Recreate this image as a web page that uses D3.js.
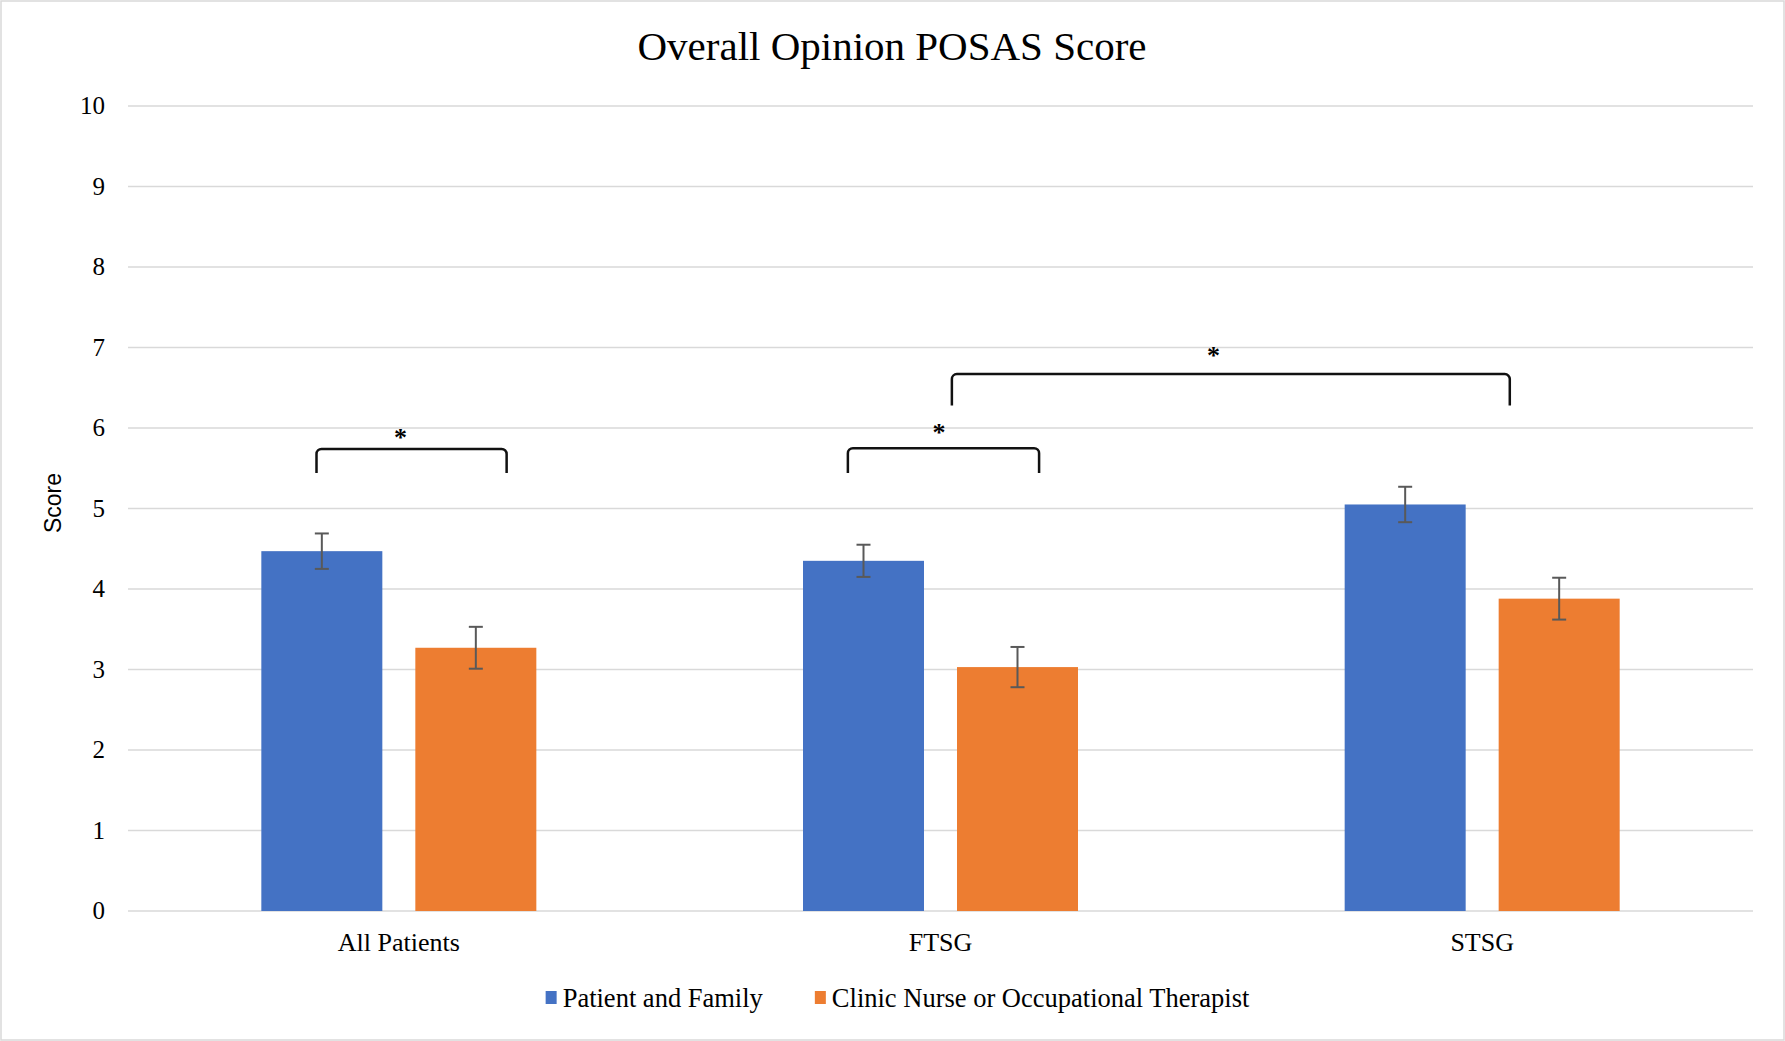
<!DOCTYPE html>
<html>
<head>
<meta charset="utf-8">
<script src="https://cdn.jsdelivr.net/npm/d3@7"></script>
<style>
  body { margin: 0; background: #fff; }
  svg text { font-family: "Liberation Serif", "Times New Roman", serif; fill: #000; }
</style>
</head>
<body>
<div id="chart"></div>
<script>
var w = 1785;
var h = 1041;

var categories = ["All Patients", "FTSG", "STSG"];
var series = ["Patient and Family", "Clinic Nurse or Occupational Therapist"];
var colors = ["#4472C4", "#ED7D31"];
var patientValues = [4.47, 4.35, 5.05];
var patientErrors = [0.22, 0.20, 0.22];
var clinicValues = [3.27, 3.03, 3.88];
var clinicErrors = [0.26, 0.25, 0.26];
var yTicks = [0, 1, 2, 3, 4, 5, 6, 7, 8, 9, 10];

// significance brackets: position along category axis (index + fraction), score level
var brackets = [
   {x1: 0.348, x2: 0.699, top: 5.74, leg: 5.44, star: 0.503, starY: 5.93},
   {x1: 1.329, x2: 1.682, top: 5.75, leg: 5.44, star: 1.497, starY: 5.99},
   {x1: 1.521, x2: 2.551, top: 6.67, leg: 6.28, star: 2.004, starY: 6.94}
];

var plotLeft = 128;
var plotRight = 1753;
var plotTop = 106;
var plotBottom = 911;

var rows = categories.map(function(c, i) {
   return {category: c, bars: [
      {series: series[0], value: patientValues[i], err: patientErrors[i], color: colors[0]},
      {series: series[1], value: clinicValues[i], err: clinicErrors[i], color: colors[1]}
   ]};
});

var svg = d3.select("#chart")
            .append("svg")
            .attr("width", w)
            .attr("height", h);

svg.append("rect")
   .attr("x", 1).attr("y", 1)
   .attr("width", w - 2).attr("height", h - 2)
   .attr("fill", "#fff")
   .attr("stroke", "#d9d9d9")
   .attr("stroke-width", 1.5);

var y = d3.scaleLinear().domain([0, 10]).range([plotBottom, plotTop]);
var x0 = d3.scaleBand().domain(categories).range([plotLeft, plotRight]).padding(0);
var x1 = d3.scaleBand().domain(series).range([-137.5, 137.5])
           .paddingInner(33 / 154).paddingOuter(0);
var xPos = d3.scaleLinear().domain([0, categories.length]).range([plotLeft, plotRight]);

// gridlines
svg.append("g")
   .selectAll("line")
   .data(yTicks)
   .join("line")
   .attr("x1", plotLeft).attr("x2", plotRight)
   .attr("y1", function(d) { return y(d); })
   .attr("y2", function(d) { return y(d); })
   .attr("stroke", "#d9d9d9")
   .attr("stroke-width", 1.5);

// y axis labels
var yAxis = svg.append("g")
   .attr("transform", "translate(105,0)")
   .call(d3.axisLeft(y).tickValues(yTicks).tickSize(0).tickPadding(0));
yAxis.select(".domain").remove();
yAxis.selectAll("text")
   .attr("font-family", "Liberation Serif")
   .attr("font-size", 25)
   .attr("fill", "#000")
   .attr("dy", "0.3em");

svg.append("text")
   .attr("transform", "translate(61,503) rotate(-90)")
   .attr("text-anchor", "middle")
   .style("font-family", "'Liberation Sans', Arial, sans-serif")
   .attr("font-size", 23)
   .text("Score");

// bars
var groups = svg.append("g")
   .selectAll("g")
   .data(rows)
   .join("g")
   .attr("transform", function(d) {
      return "translate(" + (x0(d.category) + x0.bandwidth() / 2) + ",0)";
   });

groups.selectAll("rect")
   .data(function(d) { return d.bars; })
   .join("rect")
   .attr("x", function(d) { return x1(d.series); })
   .attr("width", x1.bandwidth())
   .attr("y", function(d) { return y(d.value); })
   .attr("height", function(d) { return y(0) - y(d.value); })
   .attr("fill", function(d) { return d.color; });

// error bars
var errs = groups.selectAll("g.err")
   .data(function(d) { return d.bars; })
   .join("g")
   .attr("class", "err")
   .attr("stroke", "#595959")
   .attr("stroke-width", 2);

errs.append("line")
   .attr("x1", function(d) { return x1(d.series) + x1.bandwidth() / 2; })
   .attr("x2", function(d) { return x1(d.series) + x1.bandwidth() / 2; })
   .attr("y1", function(d) { return y(d.value + d.err); })
   .attr("y2", function(d) { return y(d.value - d.err); });

[1, -1].forEach(function(s) {
   errs.append("line")
      .attr("x1", function(d) { return x1(d.series) + x1.bandwidth() / 2 - 7; })
      .attr("x2", function(d) { return x1(d.series) + x1.bandwidth() / 2 + 7; })
      .attr("y1", function(d) { return y(d.value + s * d.err); })
      .attr("y2", function(d) { return y(d.value + s * d.err); });
});

// x labels
svg.append("g")
   .selectAll("text")
   .data(categories)
   .join("text")
   .attr("x", function(d) { return x0(d) + x0.bandwidth() / 2; })
   .attr("y", 951)
   .attr("text-anchor", "middle")
   .attr("font-size", 26)
   .text(function(d) { return d; });

// brackets
var bracketPath = function(b) {
   var p = d3.path();
   var l = xPos(b.x1), r = xPos(b.x2), t = y(b.top), g = y(b.leg);
   p.moveTo(l, g);
   p.arcTo(l, t, l + 6, t, 5);
   p.arcTo(r, t, r, g, 5);
   p.lineTo(r, g);
   return p.toString();
};

svg.append("g")
   .selectAll("path")
   .data(brackets)
   .join("path")
   .attr("d", bracketPath)
   .attr("fill", "none")
   .attr("stroke", "#111")
   .attr("stroke-width", 2.5);

svg.append("g")
   .selectAll("text")
   .data(brackets)
   .join("text")
   .attr("x", function(d) { return xPos(d.star); })
   .attr("y", function(d) { return y(d.starY) + 12; })
   .attr("text-anchor", "middle")
   .attr("font-size", 26)
   .attr("font-weight", "bold")
   .text("*");

// title
svg.append("text")
   .attr("x", 892)
   .attr("y", 60)
   .attr("text-anchor", "middle")
   .attr("font-size", 41)
   .text("Overall Opinion POSAS Score");

// legend
var legend = svg.append("g");
var items = legend.selectAll("g")
   .data(series)
   .join("g");
items.append("rect")
   .attr("width", 11).attr("height", 13)
   .attr("y", 991)
   .attr("fill", function(d, i) { return colors[i]; });
items.append("text")
   .attr("x", 17)
   .attr("y", 1007)
   .attr("font-size", 26.5)
   .text(function(d) { return d; });

var lx = 0;
var offsets = [];
items.each(function(d, i) {
   var tw = d3.select(this).select("text").node().getComputedTextLength();
   offsets.push(lx);
   lx += 17 + tw + (i < series.length - 1 ? 52 : 0);
});
var startX = 897.5 - lx / 2;
items.attr("transform", function(d, i) { return "translate(" + (startX + offsets[i]) + ",0)"; });
</script>
</body>
</html>
